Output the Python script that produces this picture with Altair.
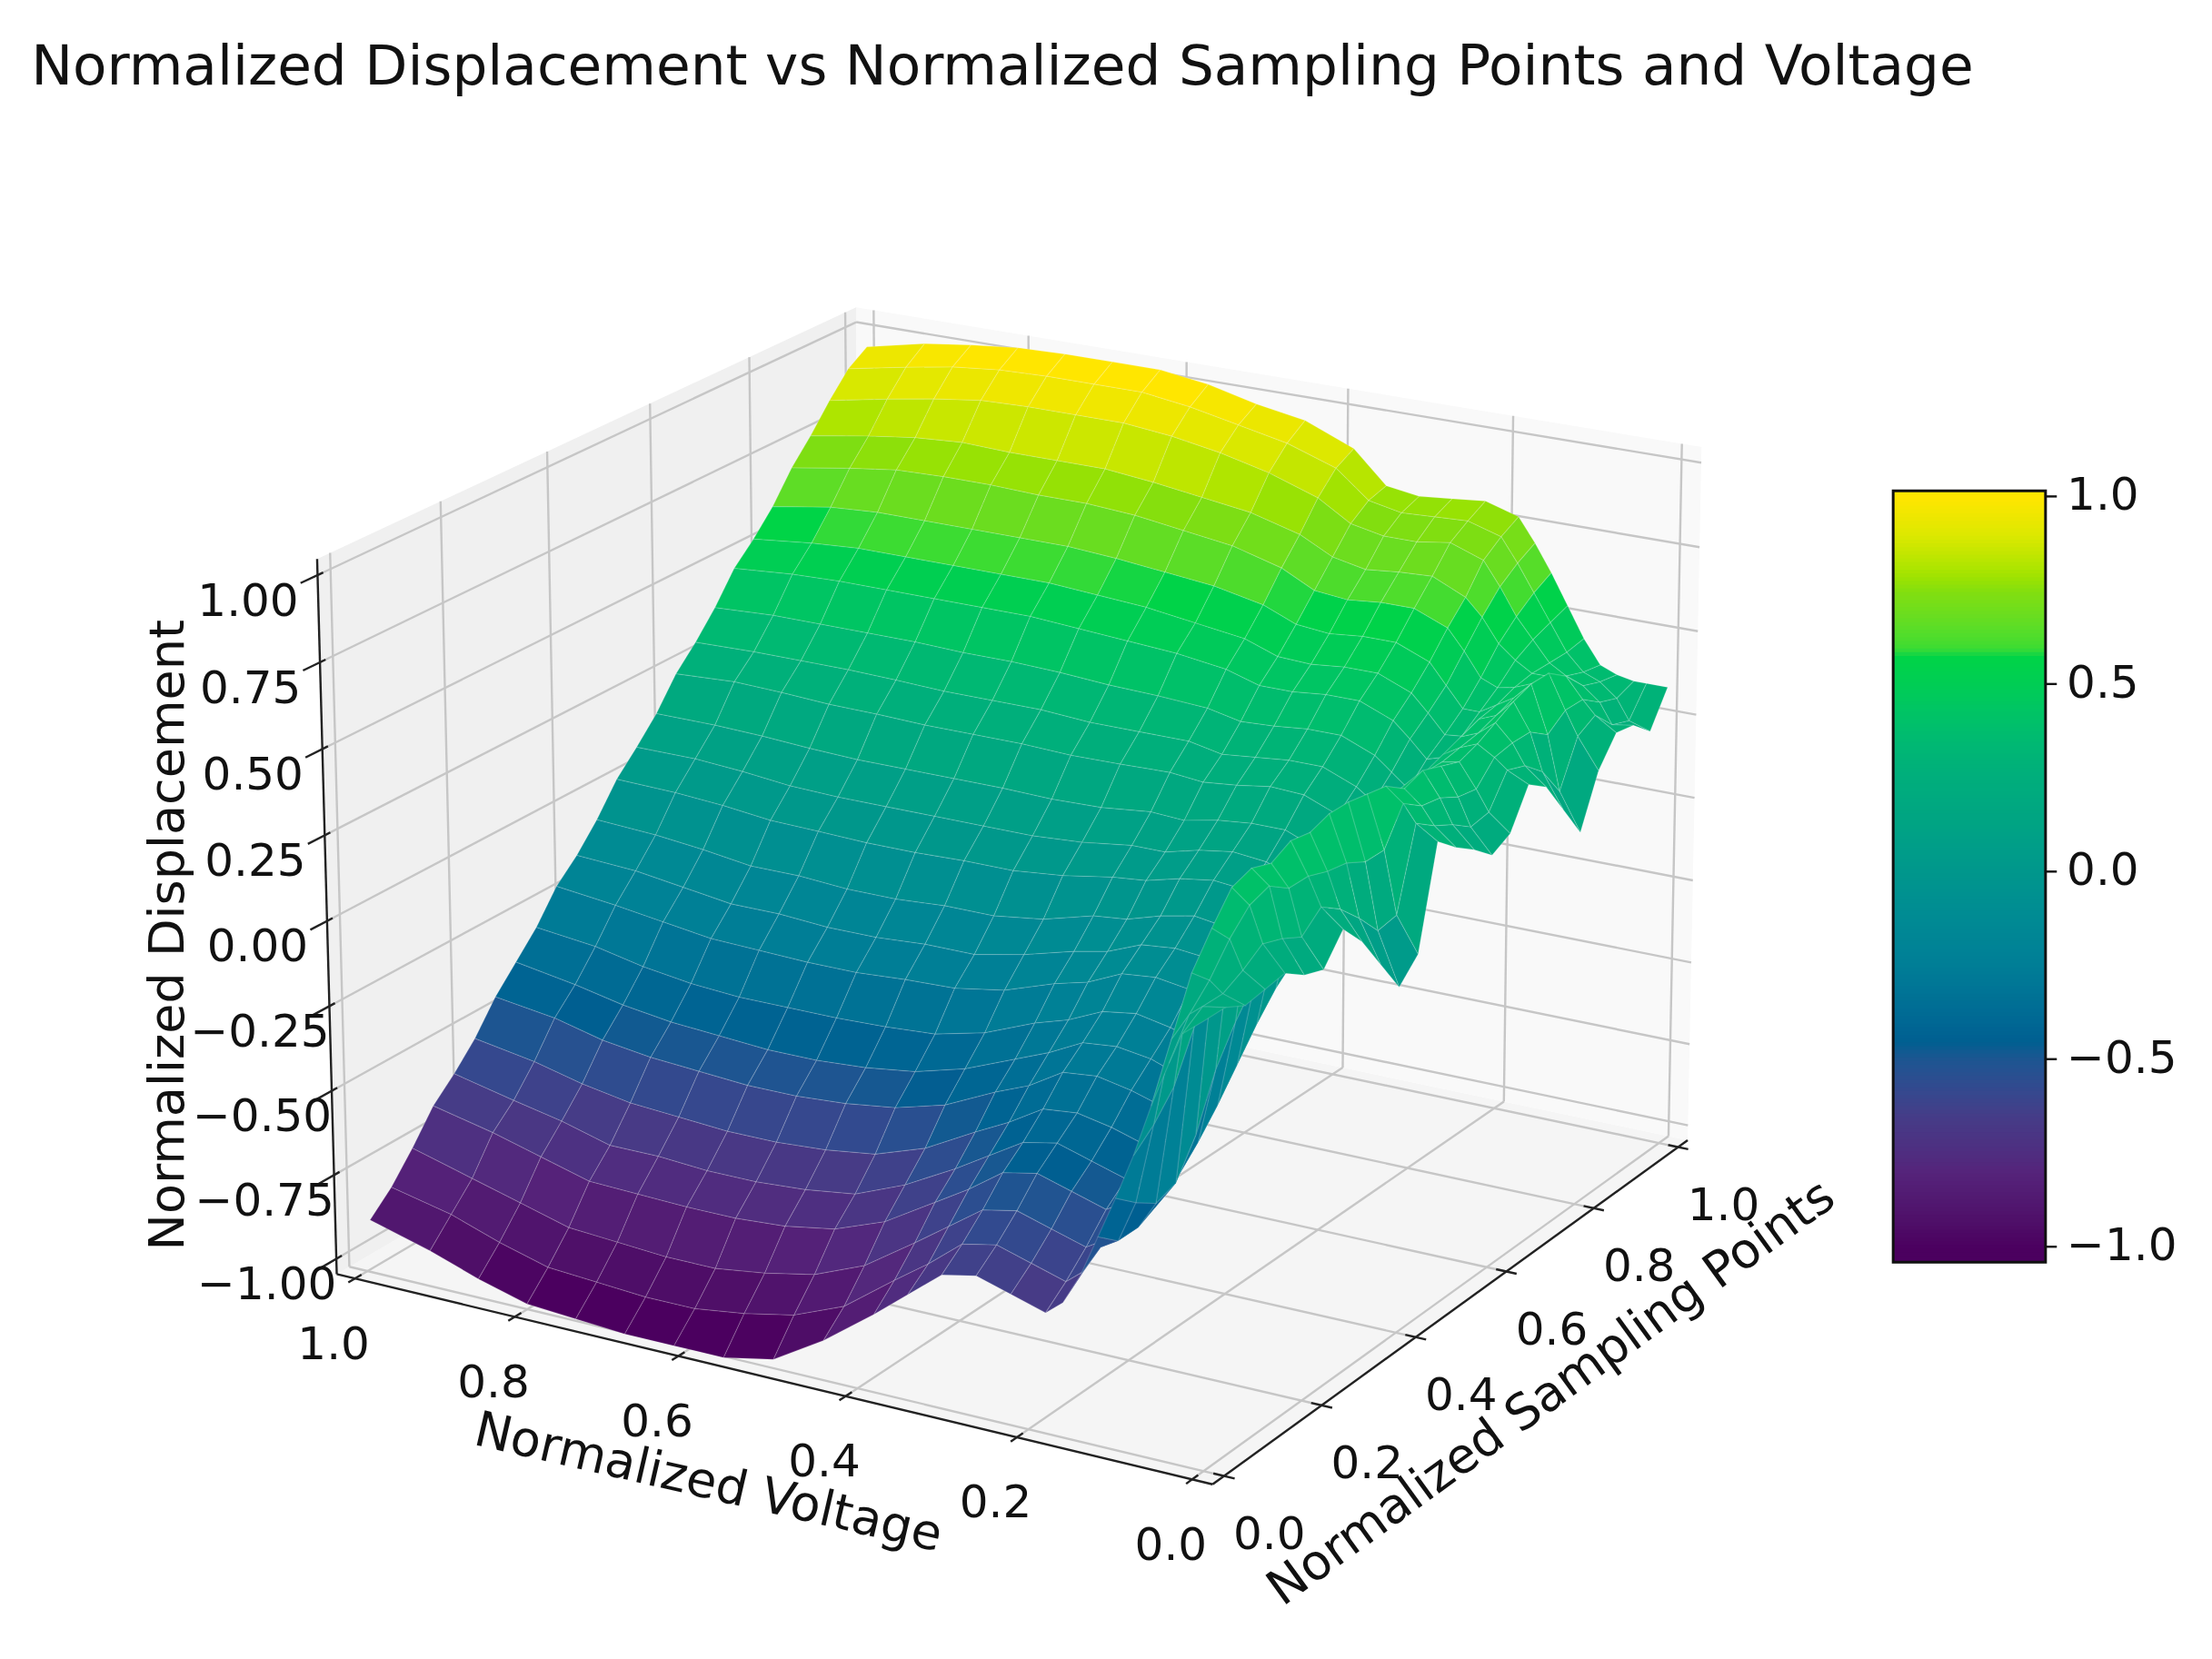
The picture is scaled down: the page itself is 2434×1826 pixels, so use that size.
import numpy as np
import pandas as pd
import altair as alt

TITLE = "Normalized Displacement vs Normalized Sampling Points and Voltage"
X_TITLE = "Normalized Voltage"
Y_TITLE = "Normalized Sampling Points"
Z_TITLE = "Normalized Displacement"
FONT = "DejaVu Sans"

V_VALUES = [.995,.92,.86,.80,.74,.68,.62,.56,.50,.44,.38,.34,.30,.26,.22,.18,.16,.14,.12,.10,.08,.06,.04,.025,0]
S_VALUES = [0,.04,.08,.12,.16,.20,.24,.28,.32,.36,.40,.44,.48,.52,.56,.60,.64,.68,.72,.76,.80,.84,.88,.92,.96,1]

Z00 = [-.89,-.94,-.99,-1.03,-1.04,-1.05,-1.05,-1.05,-1.02,-.93,-.82,-.74,-.66,-.64,-.67,-.70,-.66,-.57,-.45,-.33,-.2,-.05,.08,.17,.22]
Z04 = [-.83,-.87,-.92,-.96,-.97,-.98,-.98,-.96,-.93,-.87,-.76,-.69,-.61,-.59,-.62,-.65,-.61,-.53,-.50,-.38,-.15,.1,.18,.21,.22]
Z08 = [-.75,-.80,-.84,-.88,-.89,-.90,-.90,-.88,-.85,-.79,-.69,-.62,-.55,-.53,-.56,-.59,-.56,-.48,-.50,-.42,-.08,.25,.24,.21,.19]
Z12 = [-.66,-.70,-.74,-.78,-.785,-.79,-.79,-.78,-.755,-.70,-.61,-.55,-.48,-.46,-.49,-.52,-.49,-.43,-.47,-.40,.05,.34,.32,.24,.2]
Z16 = [-.60,-.64,-.67,-.71,-.71,-.72,-.72,-.71,-.69,-.63,-.55,-.49,-.43,-.41,-.44,-.47,-.45,-.39,-.43,-.3,.2,.42,.38,.28,.21]
Z20 = [-.53,-.56,-.595,-.62,-.63,-.64,-.64,-.63,-.61,-.56,-.48,-.43,-.37,-.36,-.38,-.41,-.395,-.34,-.37,-.15,.3,.44,.40,.26,.17]
Z24 = [-.44,-.465,-.50,-.52,-.53,-.54,-.54,-.53,-.51,-.47,-.40,-.36,-.30,-.29,-.31,-.34,-.33,-.285,-.30,-.05,.3,.42,.36,.23,.15]
Z28 = [-.37,-.40,-.43,-.45,-.46,-.47,-.47,-.46,-.44,-.40,-.34,-.30,-.25,-.24,-.255,-.29,-.28,-.245,-.22,.03,.3,.45,.36,.28,.23]
Z32 = [-.30,-.32,-.35,-.37,-.38,-.38,-.38,-.375,-.365,-.33,-.27,-.24,-.195,-.18,-.20,-.23,-.23,-.20,-.14,.1,.3,.44,.34,.24,.16]
Z36 = [-.21,-.23,-.25,-.27,-.275,-.28,-.28,-.27,-.265,-.24,-.19,-.165,-.12,-.11,-.125,-.16,-.16,-.14,-.07,.16,.33,.46,.33,.18,.06]
Z40 = [-.15,-.16,-.18,-.20,-.20,-.21,-.21,-.20,-.20,-.17,-.13,-.11,-.07,-.06,-.07,-.11,-.12,-.10,-.02,.2,.35,.46,.30,.11,-.04]
Z44 = [-.075,-.085,-.10,-.12,-.12,-.13,-.13,-.12,-.12,-.10,-.06,-.05,-.02,0,-.015,-.05,-.06,-.06,.03,.24,.35,.45,.30,.12,.02]
Z48 = [.015,.01,0,-.016,-.02,-.025,-.025,-.02,-.02,-.005,.02,.03,.055,.07,.06,.02,.003,0,.08,.26,.36,.44,.40,.35,.31]
Z52 = [.08,.08,.07,.055,.05,.05,.05,.05,.05,.06,.08,.08,.105,.12,.11,.07,.05,.04,.12,.28,.36,.40,.36,.31,.26]
Z56 = [.15,.15,.145,.136,.13,.13,.13,.13,.126,.13,.146,.14,.16,.17,.17,.13,.10,.085,.15,.3,.37,.42,.35,.28,.22]
Z60 = [.24,.25,.245,.237,.235,.23,.23,.23,.224,.226,.23,.22,.23,.245,.24,.20,.17,.14,.19,.31,.37,.40,.32,.24,.17]
Z64 = [.305,.31,.31,.31,.306,.30,.30,.30,.29,.29,.29,.27,.28,.29,.29,.25,.215,.18,.22,.33,.37,.38,.31,.25,.20]
Z68 = [.38,.39,.39,.39,.39,.385,.385,.38,.37,.365,.356,.335,.34,.35,.35,.31,.27,.23,.26,.35,.38,.40,.37,.34,.31]
Z72 = [.47,.485,.49,.49,.49,.49,.49,.48,.47,.46,.44,.41,.41,.42,.42,.38,.335,.285,.30,.37,.39,.43,.38,.32,.27]
Z76 = [.53,.55,.56,.56,.56,.56,.56,.55,.54,.52,.50,.465,.46,.47,.47,.43,.38,.325,.33,.39,.41,.46,.38,.27,.17]
Z80 = [.60,.63,.64,.64,.64,.64,.64,.63,.615,.60,.57,.53,.52,.53,.53,.49,.43,.37,.37,.40,.43,.48,.34,.18,.07]
Z84 = [.69,.72,.74,.745,.745,.74,.74,.73,.71,.69,.65,.60,.59,.60,.60,.56,.50,.43,.41,.42,.44,.48,.38,.31,.22]
Z88 = [.76,.79,.81,.82,.815,.815,.815,.80,.78,.76,.72,.67,.65,.66,.665,.62,.57,.50,.46,.43,.43,.44,.38,.34,.30]
Z92 = [.84,.875,.90,.92,.925,.925,.925,.91,.885,.85,.80,.74,.72,.72,.735,.70,.63,.55,.49,.43,.40,.38,.34,.28,.29]
Z96 = [.91,.945,.97,.985,.99,.99,.99,.97,.94,.91,.86,.78,.76,.765,.77,.74,.67,.59,.51,.43,.38,.36,.32,.26,.24]
Z100 = [.95,.99,1.01,1.025,1.03,1.03,1.03,1.01,.975,.95,.89,.795,.78,.79,.80,.77,.70,.62,.53,.44,.37,.35,.34,.34,.34]
Z_ROWS = [Z00,Z04,Z08,Z12,Z16,Z20,Z24,Z28,Z32,Z36,Z40,Z44,Z48,Z52,Z56,Z60,Z64,Z68,Z72,Z76,Z80,Z84,Z88,Z92,Z96,Z100]

CB_DOMAIN = [-1,-.8,-.65,-.5,-.45,-.25,0,.15,.3,.5,.58,.6,.75,.8,.9,1]
CB_COLORS = ["#4b005f","#55237a","#463c87","#1e5591","#005f91","#007d96","#00968c","#00a582",
             "#00b278","#00cd55","#00d446","#3cdc32","#82de0f","#a5e400","#dce800","#ffe600"]
V_TICKS = [0,.2,.4,.6,.8,1.0]
S_TICKS = [0,.2,.4,.6,.8,1.0]
Z_TICKS = [-1,-.75,-.5,-.25,0,.25,.5,.75,1]
CB_TICKS = [-1,-.5,0,.5,1]

W, H = 2418, 1810
K = 2434 / 1560
KD = 2434 / 1568

VLO, VHI, SLO, SHI, ZLO, ZHI = -.023, 1.023, -.023, 1.023, -1.046, 1.046
# box corners of the 3D view, in reference-view units
CORNERS = [
    ((VHI,SLO,ZLO),(238,898)), ((VLO,SLO,ZLO),(857,1050)), ((VLO,SHI,ZLO),(1190,797)), ((VHI,SHI,ZLO),(606,687)),
    ((VHI,SLO,ZHI),(226,388)), ((VLO,SLO,ZHI),(852,519)), ((VLO,SHI,ZHI),(1203,316)), ((VHI,SHI,ZHI),(603,218)),
]
A, b = [], []
for (X,Y,Z),(u,v) in CORNERS:
    A.append([X,Y,Z,1,0,0,0,0,-u*X,-u*Y,-u*Z]); b.append(u)
    A.append([0,0,0,0,X,Y,Z,1,-v*X,-v*Y,-v*Z]); b.append(v)
p = np.linalg.lstsq(np.array(A,float), np.array(b,float), rcond=None)[0]

def proj(X,Y,Z):
    w = p[8]*X+p[9]*Y+p[10]*Z+1
    return (p[0]*X+p[1]*Y+p[2]*Z+p[3])/w*K-8, (p[4]*X+p[5]*Y+p[6]*Z+p[7])/w*K-8, w

def v2p(x,y):
    return x*KD-8, y*KD-8

def poly(pts, **props):
    ring = [[float(a),float(b)] for a,b in pts]
    ring.append(ring[0])
    return {"type":"Feature","geometry":{"type":"Polygon","coordinates":[ring]},"properties":props}

sx = alt.Scale(domain=[0,W], range=[0,W], nice=False, zero=False)
sy = alt.Scale(domain=[0,H], range=[0,H], nice=False, zero=False)
cs = alt.Scale(domain=CB_DOMAIN, range=CB_COLORS, clamp=True)
GEO = dict(type="identity", scale=1, translate=[0,0])

def wall(corners, color):
    pts = [proj(*c)[:2] for c in corners]
    return alt.Chart(alt.Data(values=[poly(pts)])).mark_geoshape(fill=color, strokeWidth=0).project(**GEO)

walls = [
    wall([(VLO,SLO,ZLO),(VHI,SLO,ZLO),(VHI,SHI,ZLO),(VLO,SHI,ZLO)], "#f5f5f5"),
    wall([(VHI,SLO,ZLO),(VHI,SHI,ZLO),(VHI,SHI,ZHI),(VHI,SLO,ZHI)], "#f0f0f0"),
    wall([(VLO,SHI,ZLO),(VHI,SHI,ZLO),(VHI,SHI,ZHI),(VLO,SHI,ZHI)], "#f9f9f9"),
]

def seg(a, b):
    x,y,_ = proj(*a); x2,y2,_ = proj(*b)
    return dict(x=x,y=y,x2=x2,y2=y2)

def rules(rows, color, width):
    return alt.Chart(pd.DataFrame(rows)).mark_rule(color=color, strokeWidth=width).encode(
        x=alt.X("x:Q",scale=sx,axis=None), y=alt.Y("y:Q",scale=sy,axis=None), x2="x2:Q", y2="y2:Q")

grid = []
for t in V_TICKS:
    grid += [seg((t,SLO,ZLO),(t,SHI,ZLO)), seg((t,SHI,ZLO),(t,SHI,ZHI))]
for t in S_TICKS:
    grid += [seg((VLO,t,ZLO),(VHI,t,ZLO)), seg((VHI,t,ZLO),(VHI,t,ZHI))]
for t in Z_TICKS:
    grid += [seg((VLO,SHI,t),(VHI,SHI,t)), seg((VHI,SLO,t),(VHI,SHI,t))]

axes = [seg((VLO,SLO,ZLO),(VHI,SLO,ZLO)), seg((VLO,SLO,ZLO),(VLO,SHI,ZLO)), seg((VHI,SLO,ZLO),(VHI,SLO,ZHI))]
for t in V_TICKS:
    axes.append(seg((t,SLO-.012,ZLO),(t,SLO+.012,ZLO)))
for t in S_TICKS:
    axes.append(seg((VLO-.012,t,ZLO),(VLO+.012,t,ZLO)))
for t in Z_TICKS:
    axes.append(seg((VHI,SLO-.03,t),(VHI,SLO+.01,t)))

# surface cells, far ones first
cells = []
for i in range(len(S_VALUES)-1):
    for j in range(len(V_VALUES)-1):
        q = [(V_VALUES[j],S_VALUES[i],Z_ROWS[i][j]),(V_VALUES[j+1],S_VALUES[i],Z_ROWS[i][j+1]),
             (V_VALUES[j+1],S_VALUES[i+1],Z_ROWS[i+1][j+1]),(V_VALUES[j],S_VALUES[i+1],Z_ROWS[i+1][j])]
        pp = [proj(*c) for c in q]
        depth = sum(c[2] for c in pp)/4
        cells.append((depth, poly([c[:2] for c in pp], z=sum(c[2] for c in q)/4)))
cells.sort(key=lambda c: -c[0])
surface = alt.Chart(alt.Data(values=[c[1] for c in cells])).mark_geoshape(
    stroke="white", strokeOpacity=.15, strokeWidth=1.2).encode(
    fill=alt.Fill("properties.z:Q", scale=cs, legend=None)).project(**GEO)

# colour bar
CB_L, CB_R, CB_T, CB_B = 1342, 1450, 348, 895
def cb_y(z):
    return 618 - 266*z
ramp = []
zz = 1.015
while cb_y(zz) < CB_B:
    x,y = v2p(CB_L, cb_y(zz)); x2,y2 = v2p(CB_R, min(cb_y(zz-.012), CB_B))
    ramp.append(dict(x=x,x2=x2,y=y,y2=y2,z=zz))
    zz -= .01
bar = alt.Chart(pd.DataFrame(ramp)).mark_rect(strokeWidth=0).encode(
    x=alt.X("x:Q",scale=sx,axis=None), x2="x2:Q", y=alt.Y("y:Q",scale=sy,axis=None), y2="y2:Q",
    fill=alt.Fill("z:Q",scale=cs,legend=None))
bx,by = v2p(CB_L,CB_T); bx2,by2 = v2p(CB_R,CB_B)
frame = alt.Chart(pd.DataFrame([dict(x=bx,x2=bx2,y=by,y2=by2)])).mark_rect(
    filled=False, stroke="#111111", strokeWidth=3).encode(
    x=alt.X("x:Q",scale=sx,axis=None), x2="x2:Q", y=alt.Y("y:Q",scale=sy,axis=None), y2="y2:Q")
cbt = []
for t in CB_TICKS:
    x,y = v2p(CB_R, cb_y(t)); x2,_ = v2p(CB_R+8, 0)
    cbt.append(dict(x=x,y=y,x2=x2,y2=y))

def texts(rows, size, **mark):
    return alt.Chart(pd.DataFrame(rows)).mark_text(font=FONT, fontSize=size, color="#111111", **mark).encode(
        x=alt.X("x:Q",scale=sx,axis=None), y=alt.Y("y:Q",scale=sy,axis=None), text="t:N")

def lab(x,y,t):
    a,b = v2p(x,y)
    return dict(x=a,y=b,t=t)

fmt = lambda t,d: f"{t:.{d}f}".replace("-","\u2212")
vlab = [dict(x=proj(t,SLO,ZLO)[0]-15*K, y=proj(t,SLO,ZLO)[1]+47*K, t=fmt(t,1)) for t in V_TICKS]
slab = [dict(x=proj(VLO,t,ZLO)[0]+32*K, y=proj(VLO,t,ZLO)[1]+42*K, t=fmt(t,1)) for t in S_TICKS]
zlab = [dict(x=proj(VHI,SLO,t)[0]-49*K, y=proj(VHI,SLO,t)[1]+19*K, t=fmt(t,2)) for t in Z_TICKS]
clab = [lab(1465, cb_y(t), fmt(t,1)) for t in CB_TICKS]

layers = walls + [
    rules(grid, "#c6c6c6", 2.4),
    rules(axes, "#222222", 2.4),
    surface,
    bar, frame,
    rules(cbt, "#111111", 2.4),
    texts(vlab, 50, align="center", baseline="middle"),
    texts(slab, 50, align="center", baseline="middle"),
    texts(zlab, 50, align="center", baseline="middle"),
    texts(clab, 50, align="left", baseline="middle"),
    texts([lab(22,60,TITLE)], 61.3, align="left", baseline="alphabetic"),
    texts([lab(502,1052,X_TITLE)], 54, align="center", baseline="middle", angle=13),
    texts([lab(1100,988,Y_TITLE)], 54, align="center", baseline="middle", angle=324),
    texts([lab(120,663,Z_TITLE)], 54, align="center", baseline="middle", angle=270),
]

chart = alt.layer(*layers).properties(
    width=W, height=H, padding=0, autosize=alt.AutoSizeParams(type="none"), background="white"
).configure_view(stroke=None)

chart.save("out.html", embed_options={"renderer": "svg", "actions": False})
